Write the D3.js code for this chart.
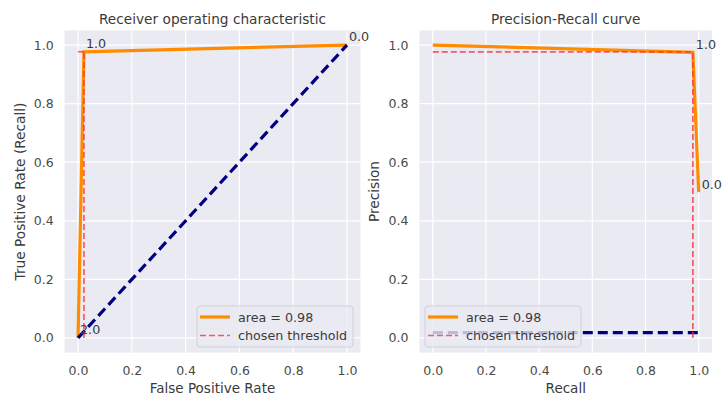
<!DOCTYPE html>
<html>
<head>
<meta charset="utf-8">
<script src="https://cdn.jsdelivr.net/npm/d3@7"></script>
<style>
  html, body { margin: 0; padding: 0; background: #fff; }
  svg { display: block; font-family: "DejaVu Sans", sans-serif; }
</style>
</head>
<body>
<svg id="chart" width="723" height="396"></svg>
<script>
// ROC curve points and thresholds
const rocFpr = [0.0, 0.022, 1.0];
const rocTpr = [0.0, 0.977, 1.0];
const rocThresholds = ["2.0", "1.0", "0.0"];
const rocChosen = { fpr: 0.022, tpr: 0.977 };

// Precision-recall curve points and thresholds
const prRecall = [0.0, 0.978, 1.0];
const prPrecision = [1.0, 0.975, 0.498];
const prThresholds = [null, "1.0", "0.0"];
const prChosen = { recall: 0.978, precision: 0.977 };
const prBaseline = 0.018;

const tickValues = [0.0, 0.2, 0.4, 0.6, 0.8, 1.0];
const legendLabels = ["area = 0.98", "chosen threshold"];

const svg = d3.select("#chart");

function panel(opts) {
  const x = d3.scaleLinear().domain([-0.05, 1.05]).range([opts.left, opts.right]);
  const y = d3.scaleLinear().domain([-0.05, 1.05]).range([352.6, 30.4]);
  const g = svg.append("g");

  g.append("rect")
    .attr("x", opts.left).attr("y", y(1.05))
    .attr("width", opts.right - opts.left).attr("height", y(-0.05) - y(1.05))
    .attr("fill", "#eaeaf2");

  // white grid
  g.append("g").selectAll("line").data(tickValues).join("line")
    .attr("x1", d => x(d)).attr("x2", d => x(d))
    .attr("y1", y(-0.05)).attr("y2", y(1.05))
    .attr("stroke", "#fff").attr("stroke-width", 1.2);
  g.append("g").selectAll("line").data(tickValues).join("line")
    .attr("y1", d => y(d)).attr("y2", d => y(d))
    .attr("x1", opts.left).attr("x2", opts.right)
    .attr("stroke", "#fff").attr("stroke-width", 1.2);

  // axes with tick labels only
  const xAxis = d3.axisBottom(x).tickValues(tickValues).tickFormat(d3.format(".1f")).tickSize(0).tickPadding(14);
  const yAxis = d3.axisLeft(y).tickValues(tickValues).tickFormat(d3.format(".1f")).tickSize(0).tickPadding(11);
  const gx = g.append("g").attr("transform", `translate(0,${y(-0.05)})`).call(xAxis);
  const gy = g.append("g").attr("transform", `translate(${opts.left},0)`).call(yAxis);
  [gx, gy].forEach(a => {
    a.select(".domain").remove();
    a.selectAll("text").attr("font-size", 12.5).attr("fill", "#4a4a4a")
      .attr("font-family", "DejaVu Sans, sans-serif");
  });

  g.append("text").attr("x", (opts.left + opts.right) / 2).attr("y", 24)
    .attr("text-anchor", "middle").attr("font-size", 13.7).attr("fill", "#3a3a3a")
    .text(opts.title);
  g.append("text").attr("x", (opts.left + opts.right) / 2).attr("y", 393)
    .attr("text-anchor", "middle").attr("font-size", 13.5).attr("fill", "#3a3a3a")
    .text(opts.xLabel);
  g.append("text")
    .attr("transform", `translate(${opts.yLabelX},${(y(-0.05) + y(1.05)) / 2}) rotate(-90)`)
    .attr("text-anchor", "middle").attr("font-size", 13.7).attr("fill", "#3a3a3a")
    .text(opts.yLabel);

  return { g, x, y };
}

const line = (x, y) => d3.line().x(d => x(d[0])).y(d => y(d[1]));

const dashedRed = sel => sel
  .attr("stroke", "#ff3344").attr("stroke-opacity", 0.8)
  .attr("stroke-width", 1.7).attr("stroke-dasharray", "6,3");

function legend(g, x0, y0) {
  const lg = g.append("g").attr("transform", `translate(${x0},${y0})`);
  lg.append("rect").attr("x", 0).attr("y", 0).attr("width", 156).attr("height", 41)
    .attr("rx", 3).attr("fill", "#eaeaf2").attr("fill-opacity", 0.8)
    .attr("stroke", "#d0d0d8").attr("stroke-width", 1);
  lg.append("line").attr("x1", 3).attr("x2", 33).attr("y1", 11).attr("y2", 11)
    .attr("stroke", "#ff8c00").attr("stroke-width", 3.2);
  lg.append("line").attr("x1", 3).attr("x2", 33).attr("y1", 29.5).attr("y2", 29.5)
    .call(dashedRed);
  lg.selectAll("text").data(legendLabels).join("text")
    .attr("x", 41).attr("y", (d, i) => 15.5 + i * 18.5)
    .attr("font-size", 12.7).attr("fill", "#3a3a3a").text(d => d);
}

// ---- ROC panel ----
{
  const { g, x, y } = panel({
    left: 64.6, right: 360.4,
    title: "Receiver operating characteristic",
    xLabel: "False Positive Rate",
    yLabel: "True Positive Rate (Recall)",
    yLabelX: 25
  });
  const pts = rocFpr.map((f, i) => [f, rocTpr[i]]);
  g.append("path").datum(pts).attr("d", line(x, y))
    .attr("fill", "none").attr("stroke", "#ff8c00").attr("stroke-width", 3.2);
  g.append("path").datum([[0, 0], [1, 1]]).attr("d", line(x, y))
    .attr("fill", "none").attr("stroke", "#000080").attr("stroke-width", 3.2)
    .attr("stroke-dasharray", "10,5");
  // chosen threshold guides
  [[[rocChosen.fpr, 0], [rocChosen.fpr, rocChosen.tpr]],
   [[0, rocChosen.tpr], [rocChosen.fpr, rocChosen.tpr]]].forEach(seg => {
    g.append("path").datum(seg).attr("d", line(x, y)).attr("fill", "none").call(dashedRed);
  });
  g.selectAll(".thr").data(pts).join("text")
    .attr("x", d => x(d[0]) + 2).attr("y", d => y(d[1]) - 4)
    .attr("font-size", 12.7).attr("fill", "#3a3a3a")
    .text((d, i) => rocThresholds[i]);
  legend(g, 197, 306);
}

// ---- Precision-Recall panel ----
{
  const { g, x, y } = panel({
    left: 419.5, right: 712,
    title: "Precision-Recall curve",
    xLabel: "Recall",
    yLabel: "Precision",
    yLabelX: 379
  });
  const pts = prRecall.map((r, i) => [r, prPrecision[i]]);
  g.append("path").datum(pts).attr("d", line(x, y))
    .attr("fill", "none").attr("stroke", "#ff8c00").attr("stroke-width", 3.2);
  g.append("path").datum([[0, prBaseline], [1, prBaseline]]).attr("d", line(x, y))
    .attr("fill", "none").attr("stroke", "#000080").attr("stroke-width", 3.2)
    .attr("stroke-dasharray", "10,5");
  [[[prChosen.recall, 0], [prChosen.recall, prChosen.precision]],
   [[0, prChosen.precision], [prChosen.recall, prChosen.precision]]].forEach(seg => {
    g.append("path").datum(seg).attr("d", line(x, y)).attr("fill", "none").call(dashedRed);
  });
  g.selectAll(".thr").data(pts.filter((d, i) => prThresholds[i] !== null)).join("text")
    .attr("x", d => x(d[0]) + 3).attr("y", d => y(d[1]) - 3)
    .attr("font-size", 12.7).attr("fill", "#3a3a3a")
    .text((d, i) => prThresholds.filter(t => t !== null)[i]);
  legend(g, 425, 306);
}
</script>
</body>
</html>
